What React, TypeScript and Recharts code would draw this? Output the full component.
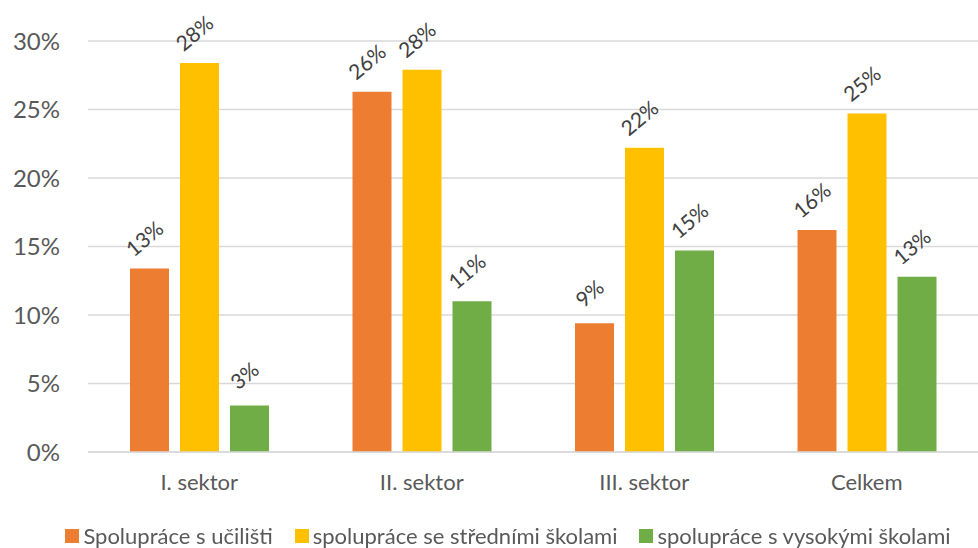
import { Bar, BarChart, CartesianGrid, LabelList, Legend, XAxis, YAxis } from "recharts";

const categories = ["I. sektor", "II. sektor", "III. sektor", "Celkem"];
const ucilisteValues = [13.4, 26.3, 9.4, 16.2];
const stredniValues = [28.4, 27.9, 22.2, 24.7];
const vysokeValues = [3.4, 11.0, 14.7, 12.8];
const yTicks = [0, 5, 10, 15, 20, 25, 30];

const series = [
  { key: "uciliste", name: "Spolupráce s učilišti", color: "#ED7D31" },
  { key: "stredni", name: "spolupráce se středními školami", color: "#FFC000" },
  { key: "vysoke", name: "spolupráce s vysokými školami", color: "#70AD47" },
];

const data = categories.map((name, i) => ({
  name,
  uciliste: ucilisteValues[i],
  stredni: stredniValues[i],
  vysoke: vysokeValues[i],
}));

const FONT = "Lato, 'Open Sans', sans-serif";

function RotatedLabel(props: any) {
  const { x, y, width, value } = props;
  const cx = x + width / 2;
  const cy = y - 24;
  return (
    <text
      x={cx}
      y={cy}
      textAnchor="middle"
      fill="#404040"
      fontSize={21}
      fontFamily={FONT}
      transform={`rotate(-40, ${cx}, ${cy})`}
    >
      {`${Math.round(value)}%`}
    </text>
  );
}

function LegendContent() {
  return (
    <div
      style={{
        display: "flex",
        justifyContent: "center",
        gap: 22,
        paddingLeft: 38,
        fontFamily: FONT,
        fontSize: 22,
        color: "#595959",
        lineHeight: "24px",
      }}
    >
      {series.map((s) => (
        <span key={s.key} style={{ display: "flex", alignItems: "center" }}>
          <span style={{ display: "inline-block", width: 14, height: 14, background: s.color, marginRight: 4 }} />
          {s.name}
        </span>
      ))}
    </div>
  );
}

export default function App() {
  return (
    <div style={{ position: "fixed", left: 0, top: 0, background: "#fff" }}>
      <BarChart
        width={978}
        height={548}
        data={data}
        margin={{ top: 41, right: 0, bottom: 0, left: 0 }}
        barCategoryGap={42}
        barGap={11}
      >
        <CartesianGrid vertical={false} stroke="#d9d9d9" strokeWidth={1.5} />
        <XAxis
          dataKey="name"
          height={72}
          tickLine={false}
          axisLine={{ stroke: "#d9d9d9", strokeWidth: 1.5 }}
          tick={{ fill: "#595959", fontSize: 22, fontFamily: FONT }}
          tickMargin={16}
        />
        <YAxis
          domain={[0, 30]}
          ticks={yTicks}
          width={88}
          axisLine={false}
          tickLine={false}
          tickMargin={22}
          tickFormatter={(v) => `${v}%`}
          tick={{ fill: "#595959", fontSize: 24, fontFamily: FONT }}
        />
        <Legend verticalAlign="bottom" height={24} content={<LegendContent />} />
        {series.map((s) => (
          <Bar key={s.key} dataKey={s.key} name={s.name} fill={s.color} isAnimationActive={false}>
            <LabelList dataKey={s.key} content={<RotatedLabel />} />
          </Bar>
        ))}
      </BarChart>
    </div>
  );
}
